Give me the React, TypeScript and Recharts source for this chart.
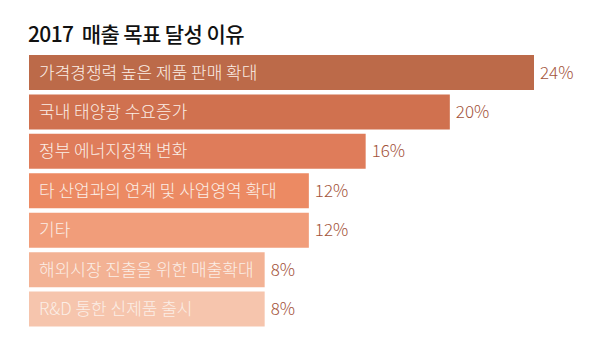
import React from 'react';
import { BarChart, Bar, XAxis, YAxis, Cell, LabelList } from 'recharts';

// reasons, top to bottom
const reasons = [
    '가격경쟁력 높은 제품 판매 확대',
    '국내 태양광 수요증가',
    '정부 에너지정책 변화',
    '타 산업과의 연계 및 사업영역 확대',
    '기타',
    '해외시장 진출을 위한 매출확대',
    'R&D 통한 신제품 출시',
];

// share of answers (%)
const shares = [24, 20, 16, 12, 12, 8, 8];

// bar length as drawn in the graphic (same % units; short bars are stretched to fit their text)
const barLength = [24, 20, 16, 13.3, 13.3, 11.2, 11.2];

const colors = ['#bc6a49', '#d0714f', '#df7c5a', '#ec8a63', '#f19d7a', '#f3b294', '#f6c5ad'];

const data = reasons.map((reason, i) => ({ reason, share: shares[i], len: barLength[i] }));

const FONT = '"Noto Sans CJK KR", "Noto Sans", sans-serif';

const App: React.FC = () => {
    return (
        <div style={{ position: 'absolute', left: 0, top: 0, width: 600, height: 364, background: '#fff', fontFamily: FONT }}>
            <div
                style={{
                    position: 'absolute',
                    left: 28,
                    top: 19,
                    fontSize: 21,
                    fontWeight: 500,
                    letterSpacing: -0.6,
                    color: '#111',
                    lineHeight: '28px',
                    whiteSpace: 'pre',
                }}
            >
                {'2017  매출 목표 달성 이유'}
            </div>
            <BarChart
                width={600}
                height={364}
                data={data}
                layout="vertical"
                margin={{ top: 53, right: 66, left: 29, bottom: 35 }}
            >
                <XAxis type="number" domain={[0, 24]} hide />
                <YAxis type="category" dataKey="reason" hide />
                <Bar dataKey="len" barSize={35} isAnimationActive={false}>
                    {data.map((d, i) => (
                        <Cell key={d.reason} fill={colors[i]} />
                    ))}
                    <LabelList
                        dataKey="reason"
                        position="insideLeft"
                        offset={10}
                        fill="#fbeee6"
                        fontSize={17}
                        fontWeight={300}
                        fontFamily={FONT}
                    />
                    <LabelList
                        dataKey="share"
                        position="right"
                        offset={6}
                        formatter={(v: any) => `${v}%`}
                        fill="#a3533a"
                        fontSize={17}
                        fontWeight={300}
                        fontFamily={FONT}
                    />
                </Bar>
            </BarChart>
        </div>
    );
};

export default App;
